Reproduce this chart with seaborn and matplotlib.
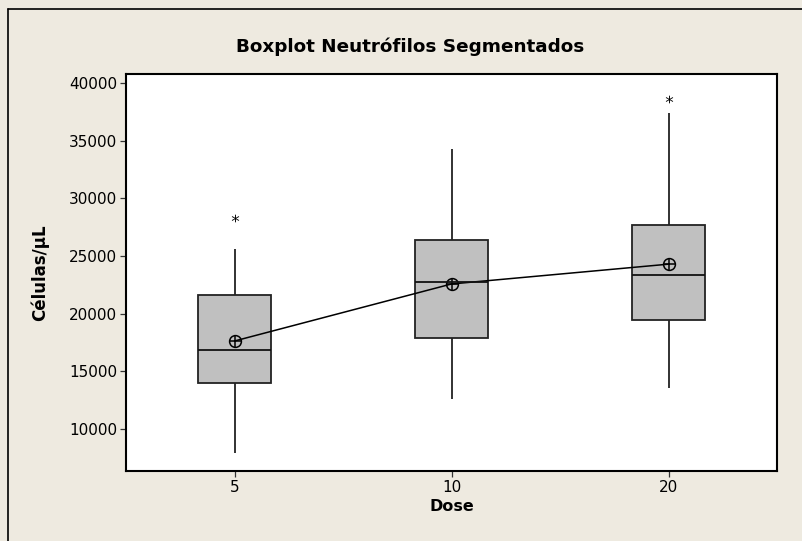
import numpy as np
import pandas as pd
import matplotlib
matplotlib.use("Agg")
import matplotlib.pyplot as plt
from matplotlib.lines import Line2D
import seaborn as sns

# Dose groups and five-number summaries (Células/µL)
doses = ["5", "10", "20"]
whisker_low = [7900, 12600, 13550]
q1 = [13980, 17900, 19450]
medians = [16850, 22750, 23370]
q3 = [21620, 26400, 27700]
whisker_high = [25600, 34300, 37420]
means = [17630, 22580, 24300]
outlier_dose = ["5", "20"]
outlier_vals = [28300, 38630]

title = "Boxplot Neutrófilos Segmentados"
xlabel = "Dose"
ylabel = "Células/µL"
yticks = [10000, 15000, 20000, 25000, 30000, 35000, 40000]

# long table: each dose described by its summary points
rows = []
for d, a, b, c, e, f in zip(doses, whisker_low, q1, medians, q3, whisker_high):
    for v in (a, b, c, e, f):
        rows.append({"Dose": d, "Valor": v})
box_df = pd.DataFrame(rows)
mean_df = pd.DataFrame({"Dose": doses, "Média": means})
out_df = pd.DataFrame({"Dose": outlier_dose, "Valor": outlier_vals})

sns.set_theme(style="white")
plt.rcParams["font.family"] = ["DejaVu Sans"]
plt.rcParams["text.color"] = "black"
plt.rcParams["axes.labelcolor"] = "black"

bg = "#EEEAE0"
fig = plt.figure(figsize=(8.02, 5.41), dpi=100, facecolor=bg)
ax = fig.add_axes([126 / 802, 1 - 471 / 541, (777 - 126) / 802, (471 - 74) / 541])
ax.set_facecolor("white")

sns.boxplot(
    data=box_df, x="Dose", y="Valor", order=doses, ax=ax,
    whis=(0, 100), width=0.34, color="#C0C0C0", saturation=1,
    showfliers=False, linecolor="#222222", linewidth=1.3,
    medianprops={"color": "#111111", "linewidth": 1.3},
    whiskerprops={"color": "#222222", "linewidth": 1.3},
    capprops={"linewidth": 0},
)

sns.stripplot(
    data=out_df, x="Dose", y="Valor", order=doses, ax=ax,
    jitter=False, marker="$*$", color="black", size=5.5, linewidth=0,
)

# mean connect line with circled-plus markers
sns.pointplot(
    data=mean_df, x="Dose", y="Média", order=doses, ax=ax,
    color="black", markers="o", linestyles="-", errorbar=None,
    linewidth=1.1, markersize=8.5, markerfacecolor="none",
    markeredgewidth=1.1,
)
sns.pointplot(
    data=mean_df, x="Dose", y="Média", order=doses, ax=ax,
    color="black", markers="+", linestyles="none", errorbar=None,
    markersize=8.5, markeredgewidth=1.1,
)

ax.set_xlim(-0.5, 2.5)
ax.set_ylim(6345, 40807)
ax.set_yticks(yticks)
ax.set_yticklabels([str(t) for t in yticks])
ax.set_xticks(range(len(doses)))
ax.set_xticklabels(doses)

for s in ax.spines.values():
    s.set_visible(True)
    s.set_color("black")
    s.set_linewidth(1.5)

ax.tick_params(axis="both", direction="out", length=4.5, width=0.9,
               color="#333333", labelsize=11, labelcolor="black", pad=2,
               bottom=True, left=True)

ax.set_xlabel(xlabel, fontsize=11.5, fontweight="bold", labelpad=3, color="black")
ax.set_ylabel(ylabel, fontsize=12, fontweight="bold", labelpad=14, color="black")
fig.text(410 / 802, 1 - 47 / 541, title, ha="center", va="center",
         fontsize=13.2, fontweight="bold", color="black")

# outer frame lines along the top and left edges
fig.add_artist(Line2D([8 / 802, 8 / 802], [0, 1 - 9 / 541], transform=fig.transFigure,
                      color="black", linewidth=1.2))
fig.add_artist(Line2D([8 / 802, 1], [1 - 9 / 541, 1 - 9 / 541], transform=fig.transFigure,
                      color="black", linewidth=1.2))

fig.savefig("out.png", dpi=100, facecolor=bg)
